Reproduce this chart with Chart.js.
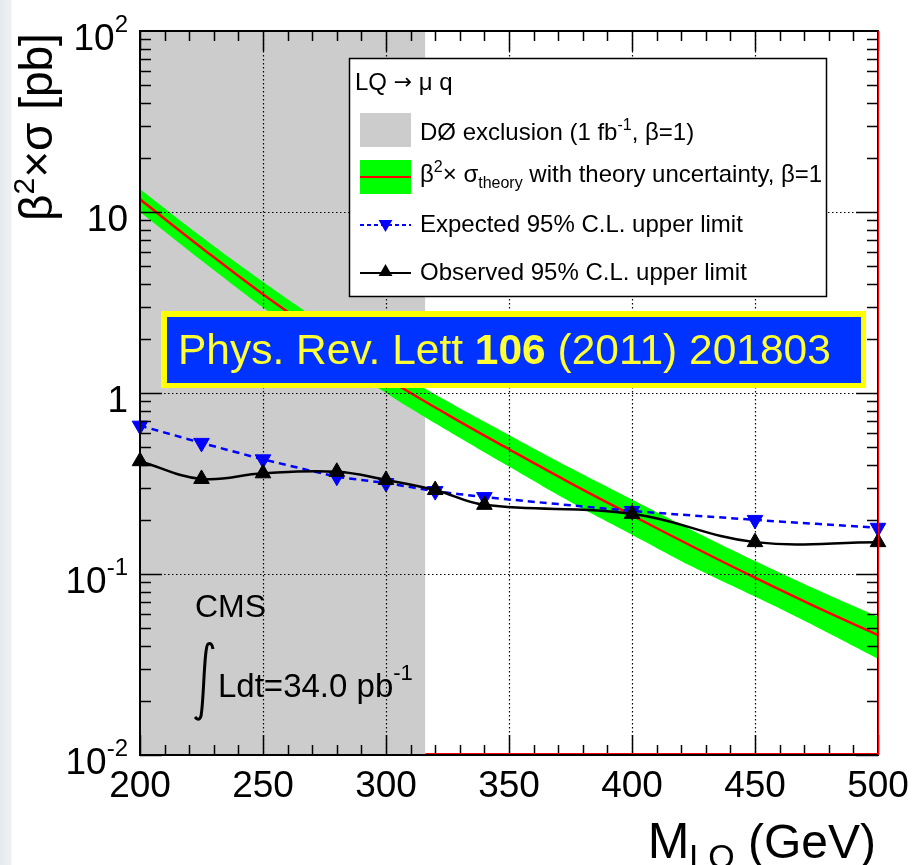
<!DOCTYPE html>
<html>
<head>
<meta charset="utf-8">
<script src="https://cdn.jsdelivr.net/npm/chart.js@4.4.0/dist/chart.umd.min.js"></script>
<style>
  html, body { margin: 0; padding: 0; }
  body {
    width: 914px; height: 865px; overflow: hidden;
    background: linear-gradient(to right, #e6eaee 0px, #eef1f4 11px, #ffffff 12px);
  }
  canvas { display: block; }
</style>
</head>
<body>
<canvas id="limitChart" width="914" height="865"></canvas>
<script>
// LQ mass points (GeV) where the limits were computed
const massPoints = [200, 225, 250, 280, 300, 320, 340, 400, 450, 500];
const expectedLimit = [0.66, 0.53, 0.43, 0.345, 0.318, 0.287, 0.266, 0.223, 0.199, 0.180];
const observedLimit = [0.42, 0.335, 0.36, 0.367, 0.331, 0.291, 0.241, 0.215, 0.150, 0.150];

// NLO pair production cross section (pb) with its uncertainty band
const theoryMass = [200, 225, 250, 275, 300, 325, 350, 375, 400, 425, 450, 475, 500];
const theoryXsec = [11.75, 6.35, 3.51, 2.03, 1.21, 0.76, 0.489, 0.318, 0.211, 0.141, 0.0954, 0.0656, 0.046];
const theoryUp   = [13.4, 7.3, 4.12, 2.4, 1.43, 0.90, 0.586, 0.385, 0.258, 0.173, 0.118, 0.082, 0.058];
const theoryDown = [10.0, 5.4, 2.97, 1.7, 1.0, 0.62, 0.392, 0.25, 0.165, 0.109, 0.075, 0.051, 0.034];

// D0 excluded mass range (1 fb^-1, beta=1)
const d0Excluded = [200, 316];

const xTicks = [200, 250, 300, 350, 400, 450, 500];
const yTicks = [0.01, 0.1, 1, 10, 100];
const yTickLabels = [['10', '-2'], ['10', '-1'], ['1', ''], ['10', ''], ['10', '2']];

const FONT = '"Liberation Sans", Arial, Helvetica, sans-serif';

function pts(xs, ys) {
    return xs.map((x, i) => ({ x: x, y: ys[i] }));
}

// draws text pieces one after the other: [text, size, dy, weight, family]
function richText(ctx, x, y, parts, color) {
    let cx = x;
    ctx.fillStyle = color || '#000';
    ctx.textBaseline = 'alphabetic';
    ctx.textAlign = 'left';
    parts.forEach(p => {
        ctx.font = (p[3] || 'normal') + ' ' + p[1] + 'px ' + (p[4] || FONT);
        ctx.fillText(p[0], cx, y + (p[2] || 0));
        cx += ctx.measureText(p[0]).width;
    });
    return cx;
}

function richWidth(ctx, parts) {
    let w = 0;
    parts.forEach(p => {
        ctx.font = (p[3] || 'normal') + ' ' + p[1] + 'px ' + (p[4] || FONT);
        w += ctx.measureText(p[0]).width;
    });
    return w;
}

function triangle(ctx, x, y, r, down) {
    const s = down ? -1 : 1;
    ctx.beginPath();
    ctx.moveTo(x, y - s * r);
    ctx.lineTo(x + r * 0.866, y + s * r * 0.5);
    ctx.lineTo(x - r * 0.866, y + s * r * 0.5);
    ctx.closePath();
    ctx.fill();
}

function seg(ctx, x1, y1, x2, y2) {
    ctx.beginPath();
    ctx.moveTo(x1, y1);
    ctx.lineTo(x2, y2);
    ctx.stroke();
}

// grid, inner ticks and frame are painted over the curves
const rootFrame = {
    id: 'rootFrame',
    afterDatasetsDraw(chart) {
        const { ctx, chartArea: a, scales: { x, y } } = chart;
        ctx.save();
        ctx.strokeStyle = '#000';
        ctx.lineWidth = 1.2;
        ctx.setLineDash([1.5, 2.5]);
        xTicks.slice(1, -1).forEach(v => {
            const px = Math.round(x.getPixelForValue(v)) + 0.5;
            seg(ctx, px, a.top, px, a.bottom);
        });
        yTicks.slice(1, -1).forEach(v => {
            const py = Math.round(y.getPixelForValue(v)) + 0.5;
            seg(ctx, a.left, py, a.right, py);
        });
        ctx.setLineDash([]);

        ctx.lineWidth = 1.5;
        for (let m = 200; m <= 500; m += 10) {
            const px = Math.round(x.getPixelForValue(m)) + 0.5;
            const len = m % 50 === 0 ? 20 : 10;
            seg(ctx, px, a.bottom, px, a.bottom - len);
            seg(ctx, px, a.top, px, a.top + len);
        }
        for (let d = -2; d < 2; d++) {
            for (let k = 1; k <= 9; k++) {
                const py = Math.round(y.getPixelForValue(k * Math.pow(10, d))) + 0.5;
                const len = k === 1 ? 22 : 11;
                seg(ctx, a.left, py, a.left + len, py);
                seg(ctx, a.right, py, a.right - len, py);
            }
        }

        ctx.lineWidth = 2;
        ctx.strokeRect(a.left, a.top, a.right - a.left, a.bottom - a.top);

        // red edge of the theory histogram along the bottom and right side
        ctx.strokeStyle = '#ff0000';
        ctx.lineWidth = 1.2;
        seg(ctx, x.getPixelForValue(d0Excluded[1]), a.bottom - 1.5, a.right, a.bottom - 1.5);
        seg(ctx, a.right + 0.5, a.top, a.right + 0.5, a.bottom);
        ctx.restore();
    }
};

const annotations = {
    id: 'annotations',
    afterDraw(chart) {
        const { ctx, chartArea: a, scales: { x, y } } = chart;
        ctx.save();

        // axis tick labels
        yTicks.forEach((v, i) => {
            const lab = yTickLabels[i];
            const parts = [[lab[0], 37], [lab[1], 24, -18]];
            const w = richWidth(ctx, parts);
            richText(ctx, 128 - w, y.getPixelForValue(v) + 19, parts);
        });
        xTicks.forEach(v => {
            ctx.font = '37px ' + FONT;
            ctx.textAlign = 'center';
            ctx.fillStyle = '#000';
            ctx.fillText(String(v), x.getPixelForValue(v), 797);
        });

        // axis titles
        const xt = [['M', 50], ['LQ', 34, 10], [' (GeV)', 48]];
        richText(ctx, 876 - richWidth(ctx, xt), 858, xt);

        ctx.save();
        ctx.translate(52, 221);
        ctx.rotate(-Math.PI / 2);
        richText(ctx, 0, 0, [['\u03b2', 46], ['2', 30, -18], ['\u00d7\u03c3 [pb]', 46]]);
        ctx.restore();

        // legend
        ctx.fillStyle = '#fff';
        ctx.fillRect(349, 58, 478, 239);
        ctx.strokeStyle = '#000';
        ctx.lineWidth = 1.5;
        ctx.strokeRect(349.5, 58.5, 477, 238);

        richText(ctx, 355, 90, [['LQ ', 24], ['\u2192', 22, -1, 'normal', '"DejaVu Sans", sans-serif'], [' \u03bc q', 24]]);

        ctx.fillStyle = '#cccccc';
        ctx.fillRect(360, 113, 51, 34);
        richText(ctx, 420, 140, [['D\u00d8 exclusion (1 fb', 24], ['-1', 16, -10], [', \u03b2=1)', 24]]);

        ctx.fillStyle = '#00ff00';
        ctx.fillRect(360, 160, 51, 34);
        ctx.strokeStyle = '#ff0000';
        ctx.lineWidth = 2;
        seg(ctx, 360, 177, 411, 177);
        richText(ctx, 420, 182, [['\u03b2', 24], ['2', 16, -10], ['\u00d7 \u03c3', 24], ['theory', 16, 6],
            [' with theory uncertainty, \u03b2=1', 24]]);

        ctx.strokeStyle = '#0000ff';
        ctx.lineWidth = 2;
        ctx.setLineDash([4, 3]);
        seg(ctx, 360, 225, 411, 225);
        ctx.setLineDash([]);
        ctx.fillStyle = '#0000ff';
        triangle(ctx, 385.5, 224, 8, true);
        richText(ctx, 420, 232, [['Expected 95% C.L. upper limit', 24]]);

        ctx.strokeStyle = '#000';
        ctx.lineWidth = 2;
        seg(ctx, 360, 273, 411, 273);
        ctx.fillStyle = '#000';
        triangle(ctx, 385.5, 272, 8, false);
        richText(ctx, 420, 280, [['Observed 95% C.L. upper limit', 24]]);

        // publication banner
        ctx.fillStyle = '#ffff00';
        ctx.fillRect(161, 311, 705, 77);
        ctx.fillStyle = '#0033ff';
        ctx.fillRect(167, 317, 694, 66);
        richText(ctx, 178, 364, [['Phys. Rev. Lett ', 42.5], ['106', 42.5, 0, 'bold'], [' (2011) 201803', 42.5]], '#ffff33');

        // experiment and luminosity
        richText(ctx, 195, 617, [['CMS', 32]]);
        ctx.strokeStyle = '#000';
        ctx.lineWidth = 3;
        ctx.beginPath();
        ctx.moveTo(213, 649);
        ctx.quadraticCurveTo(212, 642, 208, 644);
        ctx.bezierCurveTo(204, 647, 204, 700, 201, 716);
        ctx.quadraticCurveTo(199, 722, 195, 717);
        ctx.stroke();
        richText(ctx, 218, 697, [['Ldt=34.0 pb', 33], ['-1', 22, -17]]);

        ctx.restore();
    }
};

new Chart(document.getElementById('limitChart'), {
    type: 'line',
    data: {
        datasets: [
            {
                label: 'D0 exclusion',
                data: d0Excluded.map(m => ({ x: m, y: 100 })),
                backgroundColor: '#cccccc',
                borderWidth: 0,
                pointRadius: 0,
                fill: 'start',
                order: 6
            },
            {
                label: 'theory up',
                data: pts(theoryMass, theoryUp),
                backgroundColor: '#00ff00',
                borderWidth: 0,
                pointRadius: 0,
                tension: 0.4,
                fill: '+1',
                order: 5
            },
            {
                label: 'theory down',
                data: pts(theoryMass, theoryDown),
                borderWidth: 0,
                pointRadius: 0,
                tension: 0.4,
                fill: false,
                order: 4
            },
            {
                label: 'theory',
                data: pts(theoryMass, theoryXsec),
                borderColor: '#ff0000',
                borderWidth: 2.5,
                pointRadius: 0,
                tension: 0.4,
                fill: false,
                order: 3
            },
            {
                label: 'Expected 95% C.L. upper limit',
                data: pts(massPoints, expectedLimit),
                borderColor: '#0000ff',
                backgroundColor: '#0000ff',
                borderWidth: 2.5,
                borderDash: [7, 5],
                pointStyle: 'triangle',
                rotation: 180,
                pointRadius: 9,
                pointBorderWidth: 1,
                pointBorderColor: '#0000ff',
                tension: 0.1,
                fill: false,
                clip: false,
                order: 2
            },
            {
                label: 'Observed 95% C.L. upper limit',
                data: pts(massPoints, observedLimit),
                borderColor: '#000',
                backgroundColor: '#000',
                borderWidth: 2.5,
                pointStyle: 'triangle',
                pointRadius: 9,
                pointBorderWidth: 1,
                pointBorderColor: '#000',
                tension: 0.4,
                fill: false,
                clip: false,
                order: 1
            }
        ]
    },
    options: {
        responsive: false,
        animation: false,
        layout: { padding: { left: 140, right: 36, top: 31, bottom: 110 } },
        scales: {
            x: { type: 'linear', min: 200, max: 500, display: false },
            y: { type: 'logarithmic', min: 0.01, max: 100, display: false }
        },
        plugins: {
            legend: { display: false },
            tooltip: { enabled: false }
        }
    },
    plugins: [rootFrame, annotations]
});
</script>
</body>
</html>
